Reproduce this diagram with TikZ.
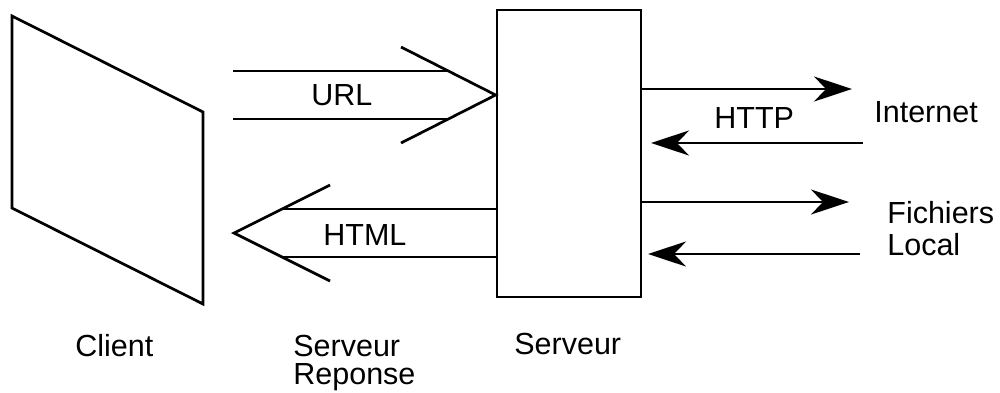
\documentclass[tikz,border=0pt]{standalone}
\usepackage{fontspec}
\setmainfont{Liberation Sans}
\usetikzlibrary{arrows.meta}
\begin{document}
\begin{tikzpicture}[x=1pt,y=-1pt,
  line width=2.7pt, line join=miter,
  lbl/.style={anchor=base west, inner sep=0pt, font=\fontsize{30.5}{31}\selectfont},
  tipped/.style={-{Stealth[length=38pt,width=25pt,inset=12pt]}},
  box/.style={draw, rectangle, inner sep=0pt, minimum width=144pt, minimum height=287pt}]
\useasboundingbox (0,0) rectangle (1000,392);
% client
\draw (12,16) -- (203,112) -- (203,304) -- (12,208) -- cycle;
% server
\node[box] (srv) at (569,153.5) {};
% URL wide arrow
\coordinate (urltip) at (srv.west |- 0,95);
\coordinate (u1) at (233,71);
\coordinate (u2) at (233,119);
\coordinate (ua) at (401,47);
\coordinate (ub) at (401,143);
\draw (u1) -- (449,71);
\draw (u2) -- (449,119);
\draw (ua) -- (urltip) -- (ub);
% HTML wide arrow
\coordinate (htip) at (234,233);
\coordinate (ha) at (330,185);
\coordinate (hb) at (330,281);
\draw (srv.west |- 0,209) -- (282,209);
\draw (srv.west |- 0,257) -- (282,257);
\draw (ha) -- (htip) -- (hb);
% right arrows
\coordinate (i1) at (852,89);
\coordinate (i2) at (863,143);
\coordinate (f1) at (849,202);
\coordinate (f2) at (860,254);
\draw[tipped] (srv.east |- i1) -- (i1);
\draw[tipped] (i2) -- (651,143);
\draw[tipped] (srv.east |- f1) -- (f1);
\draw[tipped] (f2) -- (648,254);
% labels
\node[lbl] (lurl) at (310,105) {URL};
\node[lbl] (lhtml) at (322,245) {HTML};
\node[lbl] (lhttp) at (713,128) {HTTP};
\node[lbl] (linet) at (873,122) {Internet};
\node[lbl] (lfich) at (886,223) {Fichiers};
\node[lbl] (lloc) at (886,255) {Local};
\node[lbl] (lcli) at (74,356) {Client};
\node[lbl] (lsr1) at (292,356) {Serveur};
\node[lbl] (lsr2) at (292,384) {Reponse};
\node[lbl] (lsrv) at (513,354) {Serveur};
\end{tikzpicture}
\end{document}
